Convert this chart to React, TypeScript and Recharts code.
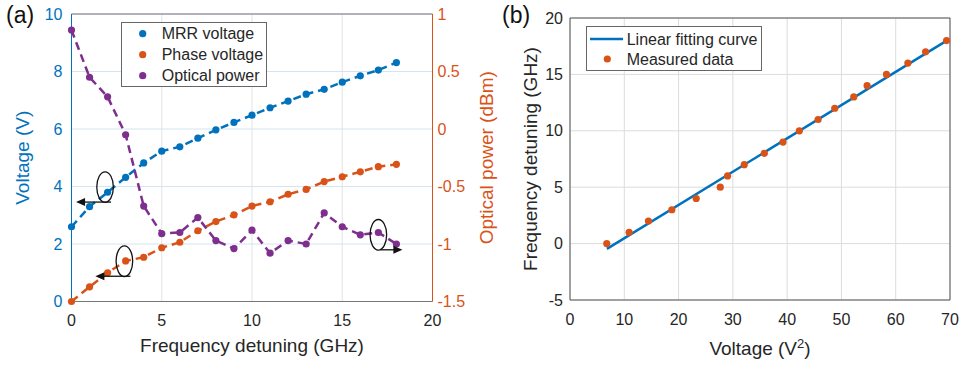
import {
  CartesianGrid,
  ComposedChart,
  Label,
  Line,
  LineChart,
  ReferenceDot,
  ReferenceLine,
  Scatter,
  XAxis,
  YAxis,
} from "recharts";

// ---- panel (a) data ----
const detuningGHz = [0, 1, 2, 3, 4, 5, 6, 7, 8, 9, 10, 11, 12, 13, 14, 15, 16, 17, 18];
const mrrVoltage = [2.6, 3.3, 3.8, 4.32, 4.82, 5.23, 5.38, 5.68, 5.97, 6.23, 6.48, 6.74, 6.97, 7.21, 7.38, 7.63, 7.85, 8.05, 8.31];
const phaseVoltage = [0, 0.51, 1.0, 1.41, 1.54, 1.87, 2.06, 2.46, 2.78, 3.01, 3.32, 3.47, 3.73, 3.9, 4.17, 4.34, 4.51, 4.69, 4.77];
const opticalPower = [0.86, 0.45, 0.28, -0.05, -0.67, -0.91, -0.9, -0.77, -0.97, -1.04, -0.88, -1.08, -0.97, -1.0, -0.73, -0.85, -0.92, -0.9, -1.0];
const detuningTicks = [0, 5, 10, 15, 20];
const voltageTicks = [0, 2, 4, 6, 8, 10];
const powerTicks = [-1.5, -1, -0.5, 0, 0.5, 1];

// circled points with arrows pointing at their axis
const callouts = [
  { x: 1.86, y: 3.98, axis: "left", dir: -1 },
  { x: 2.93, y: 1.4, axis: "left", dir: -1 },
  { x: 17.0, y: -0.92, axis: "right", dir: 1 },
];

// ---- panel (b) data ----
const measuredVoltageSq = [6.77, 10.89, 14.45, 18.76, 23.25, 27.68, 29.03, 32.1, 35.8, 39.24, 42.25, 45.7, 48.77, 52.27, 54.73, 58.3, 62.24, 65.5, 69.37];
const measuredDetuning = [0, 1, 2, 3, 4, 5, 6, 7, 8, 9, 10, 11, 12, 13, 14, 15, 16, 17, 18];
const fitVoltageSq = [6.8, 69.4];
const fitDetuning = [-0.47, 18.0];
const voltageSqTicks = [0, 10, 20, 30, 40, 50, 60, 70];
const detuningYTicks = [-5, 0, 5, 10, 15, 20];

const BLUE = "#0072BD";
const ORANGE = "#D95319";
const PURPLE = "#7E2F8E";
const INK = "#262626";
const FONT = "'Liberation Sans', Arial, sans-serif";

const seriesA = [
  { key: "mrr", name: "MRR voltage", color: BLUE, axis: "left" },
  { key: "phase", name: "Phase voltage", color: ORANGE, axis: "left" },
  { key: "power", name: "Optical power", color: PURPLE, axis: "right" },
];

const rowsA = detuningGHz.map((f, i) => ({
  f,
  mrr: mrrVoltage[i],
  phase: phaseVoltage[i],
  power: opticalPower[i],
}));
const measuredRows = measuredVoltageSq.map((x, i) => ({ x, y: measuredDetuning[i] }));
const fitRows = fitVoltageSq.map((x, i) => ({ x, y: fitDetuning[i] }));

function Callout(props: any) {
  const { cx, cy, dir } = props;
  const y = cy + 15;
  const x0 = dir < 0 ? cx + 6 : cx + 2;
  const x1 = dir < 0 ? cx - 29 : cx + 24;
  return (
    <g>
      <ellipse cx={cx} cy={cy} rx={8.3} ry={15.3} fill="none" stroke="#111" strokeWidth={1.3} />
      <line x1={x0} y1={y} x2={x1 - dir * 6} y2={y} stroke="#111" strokeWidth={1.3} />
      <path d={`M${x1},${y} L${x1 - dir * 9},${y - 4} L${x1 - dir * 9},${y + 4} Z`} fill="#111" />
    </g>
  );
}

function SideTitle({ viewBox, value, dx, fill }: any) {
  const cy = viewBox.y + viewBox.height / 2;
  const cx = viewBox.x + dx;
  return (
    <text
      transform={`translate(${cx},${cy}) rotate(-90)`}
      textAnchor="middle"
      dominantBaseline="central"
      fill={fill}
      fontSize={19}
      fontFamily={FONT}
    >
      {value}
    </text>
  );
}

function BottomTitle({ viewBox, children, dy }: any) {
  return (
    <text
      x={viewBox.x + viewBox.width / 2}
      y={viewBox.y + dy}
      textAnchor="middle"
      fill={INK}
      fontSize={19}
      fontFamily={FONT}
    >
      {children}
    </text>
  );
}

function LegendA() {
  return (
    <svg width={146} height={65} style={{ position: "absolute", left: 121, top: 22 }}>
      <rect x={0.5} y={0.5} width={145} height={64} fill="#fff" stroke="#666" />
      {seriesA.map((s, i) => (
        <g key={s.key}>
          <circle cx={21.7} cy={11.7 + i * 21} r={3.6} fill={s.color} />
          <text x={40.7} y={11.7 + i * 21} dominantBaseline="central" fontSize={16} fill={INK} fontFamily={FONT}>
            {s.name}
          </text>
        </g>
      ))}
    </svg>
  );
}

function LegendB() {
  return (
    <svg width={176} height={45} style={{ position: "absolute", left: 586, top: 26 }}>
      <rect x={0.5} y={0.5} width={175} height={44} fill="#fff" stroke="#666" />
      <line x1={4} y1={13} x2={37} y2={13} stroke={BLUE} strokeWidth={2.5} />
      <text x={40.7} y={13} dominantBaseline="central" fontSize={16} fill={INK} fontFamily={FONT}>
        Linear fitting curve
      </text>
      <circle cx={21.3} cy={33} r={3.6} fill={ORANGE} />
      <text x={40.7} y={33} dominantBaseline="central" fontSize={16} fill={INK} fontFamily={FONT}>
        Measured data
      </text>
    </svg>
  );
}

export default function App() {
  const tickA = { fontSize: 16, fontFamily: FONT };
  return (
    <div style={{ position: "absolute", left: 0, top: 0, width: 961, height: 367, background: "#fff" }}>
      <div style={{ position: "absolute", left: 0, top: 0 }}>
        <LineChart width={500} height={367} data={rowsA} margin={{ top: 14, right: 0, bottom: 0, left: 0 }}>
          <CartesianGrid yAxisId="left" vertical={false} stroke="#d3e4f2" />
          <CartesianGrid yAxisId="left" horizontal={false} stroke="#e3e3e3" />
          <XAxis
            dataKey="f"
            type="number"
            domain={[0, 20]}
            ticks={detuningTicks}
            height={65.5}
            stroke="#777"
            tickLine={false}
            tickSize={0}
            tickMargin={13.5}
            tick={{ ...tickA, fill: INK }}
          >
            <Label content={(p: any) => <BottomTitle viewBox={p.viewBox} dy={50}>Frequency detuning (GHz)</BottomTitle>} />
          </XAxis>
          <YAxis
            yAxisId="left"
            type="number"
            domain={[0, 10]}
            ticks={voltageTicks}
            width={71.5}
            stroke={BLUE}
            tickLine={false}
            tickSize={0}
            tickMargin={9}
            tick={{ ...tickA, fill: BLUE }}
          >
            <Label content={(p: any) => <SideTitle viewBox={p.viewBox} value="Voltage (V)" dx={22} fill={BLUE} />} />
          </YAxis>
          <YAxis
            yAxisId="right"
            orientation="right"
            type="number"
            domain={[-1.5, 1]}
            ticks={powerTicks}
            width={67.5}
            stroke={ORANGE}
            tickLine={false}
            tickSize={0}
            tickMargin={5}
            tick={{ ...tickA, fill: ORANGE }}
          >
            <Label content={(p: any) => <SideTitle viewBox={p.viewBox} value="Optical power (dBm)" dx={54} fill={ORANGE} />} />
          </YAxis>
          <ReferenceLine yAxisId="left" y={10} stroke="#777" />
          {seriesA.map((s) => (
            <Line
              key={s.key}
              yAxisId={s.axis}
              dataKey={s.key}
              name={s.name}
              stroke={s.color}
              strokeWidth={2.5}
              strokeDasharray="8 5"
              dot={{ r: 3.6, fill: s.color, strokeWidth: 0 }}
              activeDot={false}
              isAnimationActive={false}
            />
          ))}
          {callouts.map((c, i) => (
            <ReferenceDot
              key={i}
              yAxisId={c.axis}
              x={c.x}
              y={c.y}
              shape={(p: any) => <Callout cx={p.cx} cy={p.cy} dir={c.dir} />}
            />
          ))}
        </LineChart>
      </div>

      <div style={{ position: "absolute", left: 480, top: 0 }}>
        <ComposedChart width={481} height={367} margin={{ top: 18, right: 11, bottom: 0, left: 0 }}>
          <CartesianGrid stroke="#dcdcdc" />
          <XAxis
            dataKey="x"
            type="number"
            domain={[0, 70]}
            ticks={voltageSqTicks}
            height={67}
            stroke="#555"
            tickLine={false}
            tickSize={0}
            tickMargin={14}
            tick={{ ...tickA, fill: INK }}
          >
            <Label
              content={(p: any) => (
                <BottomTitle viewBox={p.viewBox} dy={55}>
                  <tspan>Voltage (V</tspan>
                  <tspan dy={-7} fontSize={13}>2</tspan>
                  <tspan dy={7}>)</tspan>
                </BottomTitle>
              )}
            />
          </XAxis>
          <YAxis
            dataKey="y"
            type="number"
            domain={[-5, 20]}
            ticks={detuningYTicks}
            width={90}
            stroke="#555"
            tickLine={false}
            tickSize={0}
            tickMargin={7}
            tick={{ ...tickA, fill: INK }}
          >
            <Label content={(p: any) => <SideTitle viewBox={p.viewBox} value="Frequency detuning (GHz)" dx={50} fill={INK} />} />
          </YAxis>
          <ReferenceLine y={20} stroke="#555" />
          <ReferenceLine x={70} stroke="#555" />
          <Line
            data={fitRows}
            dataKey="y"
            name="Linear fitting curve"
            stroke={BLUE}
            strokeWidth={2.5}
            dot={false}
            activeDot={false}
            isAnimationActive={false}
          />
          <Scatter
            data={measuredRows}
            dataKey="y"
            name="Measured data"
            fill={ORANGE}
            isAnimationActive={false}
            shape={(p: any) => <circle cx={p.cx} cy={p.cy} r={3.6} fill={ORANGE} />}
          />
        </ComposedChart>
      </div>

      <LegendA />
      <LegendB />

      <div style={{ position: "absolute", left: 6, top: 2, fontSize: 23, fontFamily: FONT, color: "#111" }}>(a)</div>
      <div style={{ position: "absolute", left: 502, top: 2, fontSize: 23, fontFamily: FONT, color: "#111" }}>(b)</div>
    </div>
  );
}
